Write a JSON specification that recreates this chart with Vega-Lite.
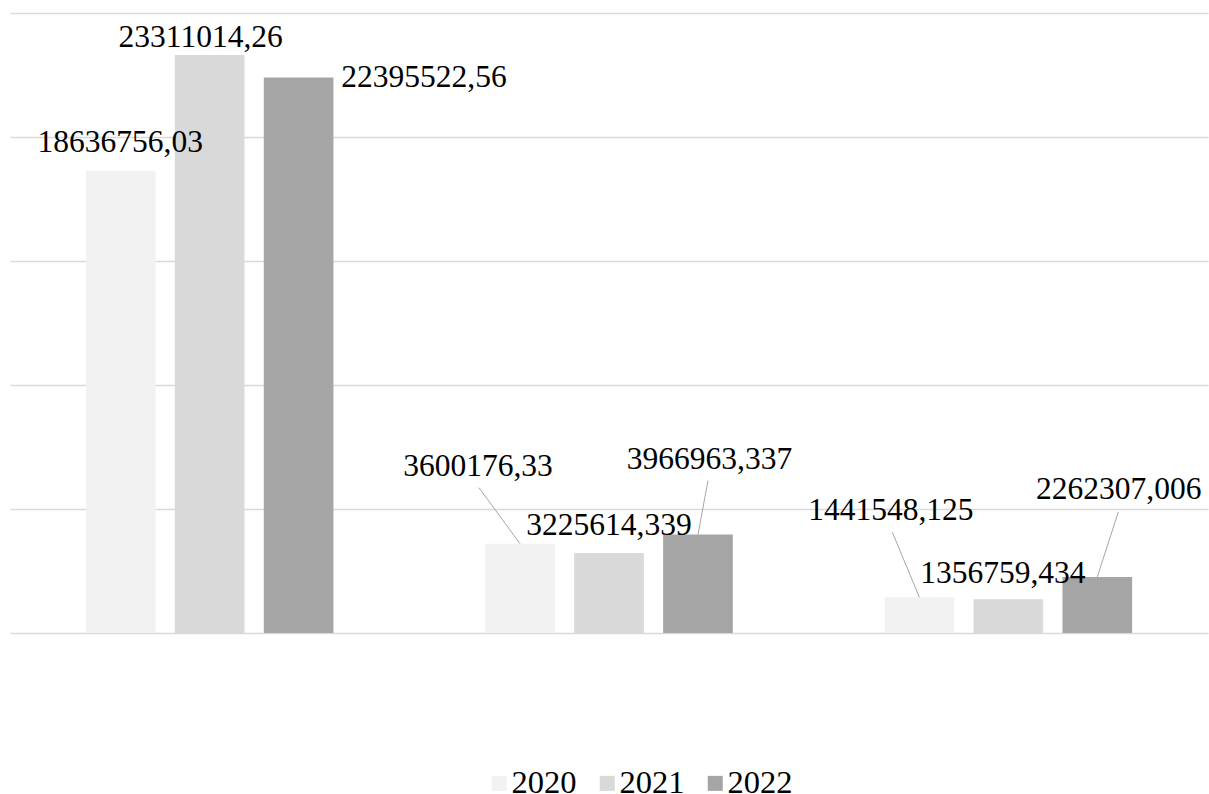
{
  "$schema": "https://vega.github.io/schema/vega-lite/v6.json",
  "width": 1198,
  "height": 620,
  "autosize": "none",
  "padding": {"left": 10, "top": 13, "right": 1, "bottom": 161},
  "background": "white",
  "config": {
    "view": {"stroke": null},
    "locale": {"number": {"decimal": ",", "thousands": "", "grouping": [3], "currency": ["", ""]}},
    "text": {"font": "Liberation Serif", "fontSize": 31.5, "color": "black", "baseline": "alphabetic"}
  },
  "data": {
    "values": [
      {"cat": "A", "year": "2020", "value": 18636756.03},
      {"cat": "A", "year": "2021", "value": 23311014.26},
      {"cat": "A", "year": "2022", "value": 22395522.56},
      {"cat": "B", "year": "2020", "value": 3600176.33},
      {"cat": "B", "year": "2021", "value": 3225614.339},
      {"cat": "B", "year": "2022", "value": 3966963.337},
      {"cat": "C", "year": "2020", "value": 1441548.125},
      {"cat": "C", "year": "2021", "value": 1356759.434},
      {"cat": "C", "year": "2022", "value": 2262307.006}
    ]
  },
  "encoding": {
    "x": {"field": "cat", "type": "nominal", "scale": {"paddingInner": 0.38, "paddingOuter": 0.19}, "axis": null},
    "xOffset": {"field": "year", "type": "nominal", "scale": {"paddingInner": 0.217, "paddingOuter": 0}},
    "y": {"field": "value", "type": "quantitative", "scale": {"domain": [0, 25000000], "nice": false},
      "axis": {"values": [0, 5000000, 10000000, 15000000, 20000000, 25000000], "labels": false, "ticks": false, "domain": false, "title": null, "grid": true, "gridColor": "#d9d9d9", "gridWidth": 1.5}}
  },
  "layer": [
    {
      "mark": {"type": "bar"},
      "encoding": {
        "color": {"field": "year", "type": "nominal",
          "scale": {"domain": ["2020", "2021", "2022"], "range": ["#f2f2f2", "#d9d9d9", "#a5a5a5"]},
          "legend": {"title": null, "orient": "none", "direction": "horizontal", "legendX": 473, "legendY": 754,
            "symbolType": "square", "symbolSize": 225, "symbolStrokeWidth": 0, "labelFont": "Liberation Serif",
            "labelFontSize": 32.5, "labelColor": "black", "labelOffset": -4, "columnPadding": 14, "padding": 0, "labelLimit": 300}}
      }
    },
    {"transform": [{"filter": "datum.cat === 'B' && datum.year === '2020'"}], "mark": {"type": "rule", "color": "#a6a6a6", "strokeWidth": 1, "x2Offset": -130, "y2Offset": -56},
      "encoding": {"x2": {"field": "cat"}, "y2": {"field": "value"}}},
    {"transform": [{"filter": "datum.cat === 'B' && datum.year === '2022'"}], "mark": {"type": "rule", "color": "#a6a6a6", "strokeWidth": 1, "x2Offset": 99, "y2Offset": -54},
      "encoding": {"x2": {"field": "cat"}, "y2": {"field": "value"}}},
    {"transform": [{"filter": "datum.cat === 'C' && datum.year === '2020'"}], "mark": {"type": "rule", "color": "#a6a6a6", "strokeWidth": 1, "x2Offset": -116, "y2Offset": -65},
      "encoding": {"x2": {"field": "cat"}, "y2": {"field": "value"}}},
    {"transform": [{"filter": "datum.cat === 'C' && datum.year === '2022'"}], "mark": {"type": "rule", "color": "#a6a6a6", "strokeWidth": 1, "x2Offset": 110, "y2Offset": -65},
      "encoding": {"x2": {"field": "cat"}, "y2": {"field": "value"}}},
    {"transform": [{"filter": "datum.cat === 'A' && datum.year === '2020'"}], "mark": {"type": "text", "align": "center", "dx": -0.5, "dy": -19},
      "encoding": {"text": {"field": "value", "type": "quantitative", "format": ".10~g"}}},
    {"transform": [{"filter": "datum.cat === 'A' && datum.year === '2021'"}], "mark": {"type": "text", "align": "center", "dx": -9, "dy": -8.3},
      "encoding": {"text": {"field": "value", "type": "quantitative", "format": ".10~g"}}},
    {"transform": [{"filter": "datum.cat === 'A' && datum.year === '2022'"}], "mark": {"type": "text", "align": "left", "dx": 42.7, "dy": 9},
      "encoding": {"text": {"field": "value", "type": "quantitative", "format": ".10~g"}}},
    {"transform": [{"filter": "datum.cat === 'B' && datum.year === '2020'"}], "mark": {"type": "text", "align": "center", "dx": -42, "dy": -68},
      "encoding": {"text": {"field": "value", "type": "quantitative", "format": ".10~g"}}},
    {"transform": [{"filter": "datum.cat === 'B' && datum.year === '2021'"}], "mark": {"type": "text", "align": "center", "dx": 0, "dy": -17.7},
      "encoding": {"text": {"field": "value", "type": "quantitative", "format": ".10~g"}}},
    {"transform": [{"filter": "datum.cat === 'B' && datum.year === '2022'"}], "mark": {"type": "text", "align": "center", "dx": 11.5, "dy": -66},
      "encoding": {"text": {"field": "value", "type": "quantitative", "format": ".10~g"}}},
    {"transform": [{"filter": "datum.cat === 'C' && datum.year === '2020'"}], "mark": {"type": "text", "align": "center", "dx": -28.5, "dy": -77},
      "encoding": {"text": {"field": "value", "type": "quantitative", "format": ".10~g"}}},
    {"transform": [{"filter": "datum.cat === 'C' && datum.year === '2021'"}], "mark": {"type": "text", "align": "center", "dx": -5.5, "dy": -16},
      "encoding": {"text": {"field": "value", "type": "quantitative", "format": ".10~g"}}},
    {"transform": [{"filter": "datum.cat === 'C' && datum.year === '2022'"}], "mark": {"type": "text", "align": "center", "dx": 21.5, "dy": -78},
      "encoding": {"text": {"field": "value", "type": "quantitative", "format": ".10~g"}}}
  ]
}
